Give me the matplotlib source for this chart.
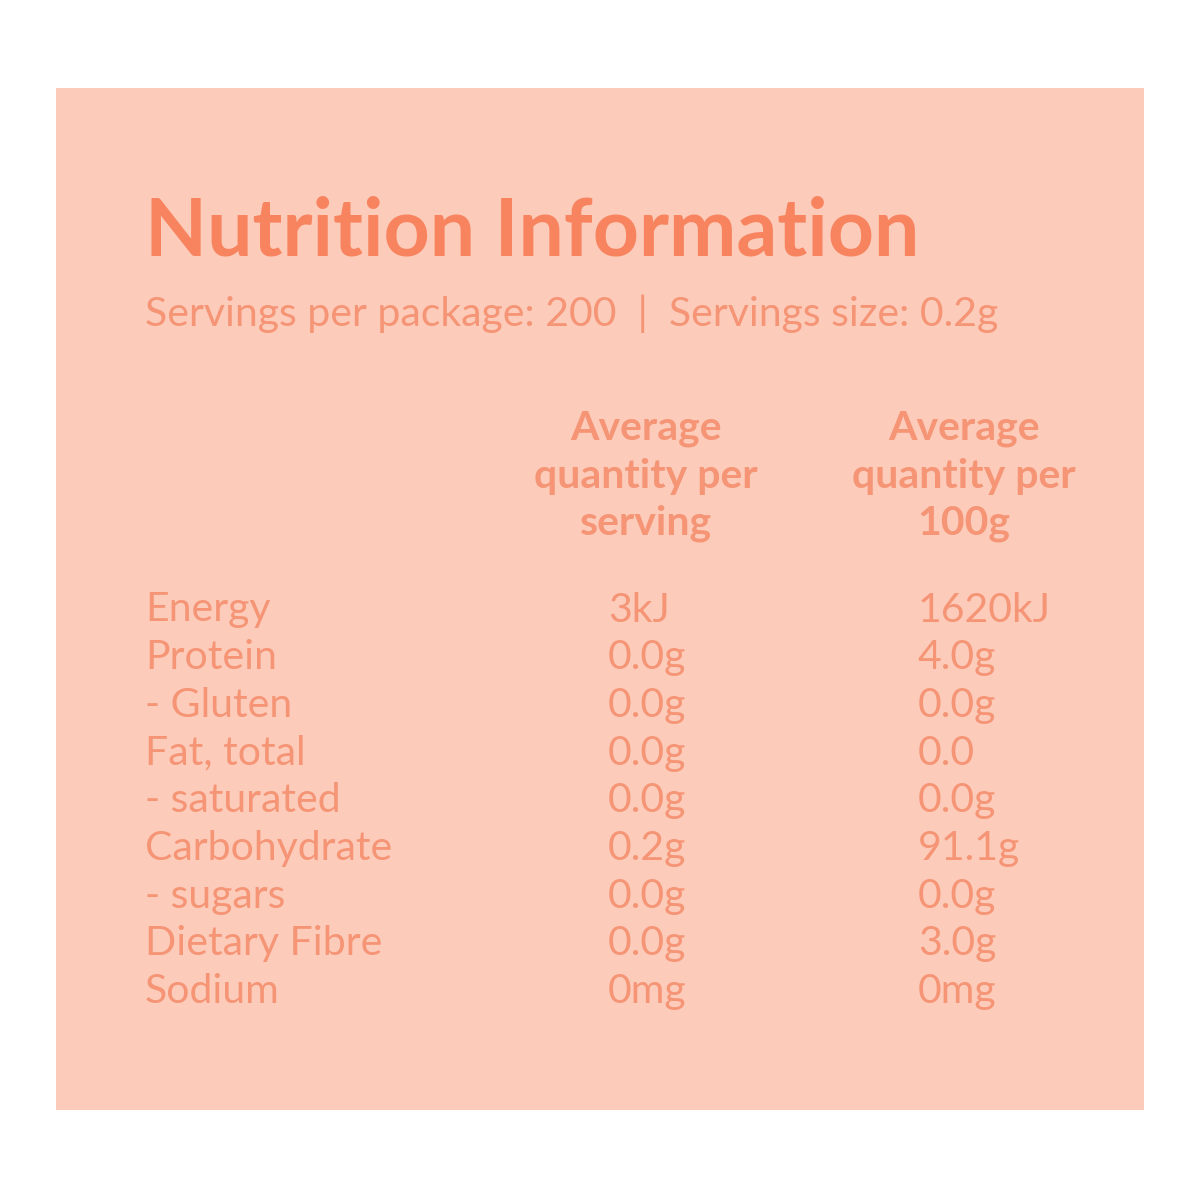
import matplotlib
matplotlib.use("Agg")
import matplotlib.pyplot as plt
from matplotlib.patches import Rectangle

title = "Nutrition Information"
subtitle = "Servings per package: 200  |  Servings size: 0.2g"
headers = [["Average", "quantity per", "serving"], ["Average", "quantity per", "100g"]]
nutrients = ["Energy", "Protein", "- Gluten", "Fat, total", "- saturated",
             "Carbohydrate", "- sugars", "Dietary Fibre", "Sodium"]
per_serving = ["3kJ", "0.0g", "0.0g", "0.0g", "0.0g", "0.2g", "0.0g", "0.0g", "0mg"]
per_100g = ["1620kJ", "4.0g", "0.0g", "0.0", "0.0g", "91.1g", "0.0g", "3.0g", "0mg"]

W = H = 1200
fig = plt.figure(figsize=(12, 12), dpi=100)
fig.patch.set_facecolor("white")
fig.patches.append(Rectangle((56 / W, 1 - 1110 / H), (1144 - 56) / W, (1110 - 88) / H,
                             transform=fig.transFigure, facecolor="#FCCBBA", edgecolor="none"))
tc = "#F7845F"
bc = "#F59576"
fam = ["Lato", "DejaVu Sans"]

def t(x, y, s, **kw):
    fig.text(x / W, 1 - y / H, s, family=fam, va="center", **kw)

t(145, 232, title, fontsize=58, fontweight="bold", color=tc)
t(145, 314, subtitle, fontsize=29.5, color=bc)
for cx, lines in zip([646, 964], headers):
    for i, s in enumerate(lines):
        t(cx, 429 + 47 * i, s, fontsize=29.5, fontweight="bold", color=bc, ha="center")
for i, (n, a, b) in enumerate(zip(nutrients, per_serving, per_100g)):
    y = 610 + 47.7 * i
    t(145, y, n, fontsize=29.5, color=bc)
    t(608, y, a, fontsize=29.5, color=bc)
    t(918, y, b, fontsize=29.5, color=bc)

fig.savefig("out.png", dpi=100, facecolor="white")
